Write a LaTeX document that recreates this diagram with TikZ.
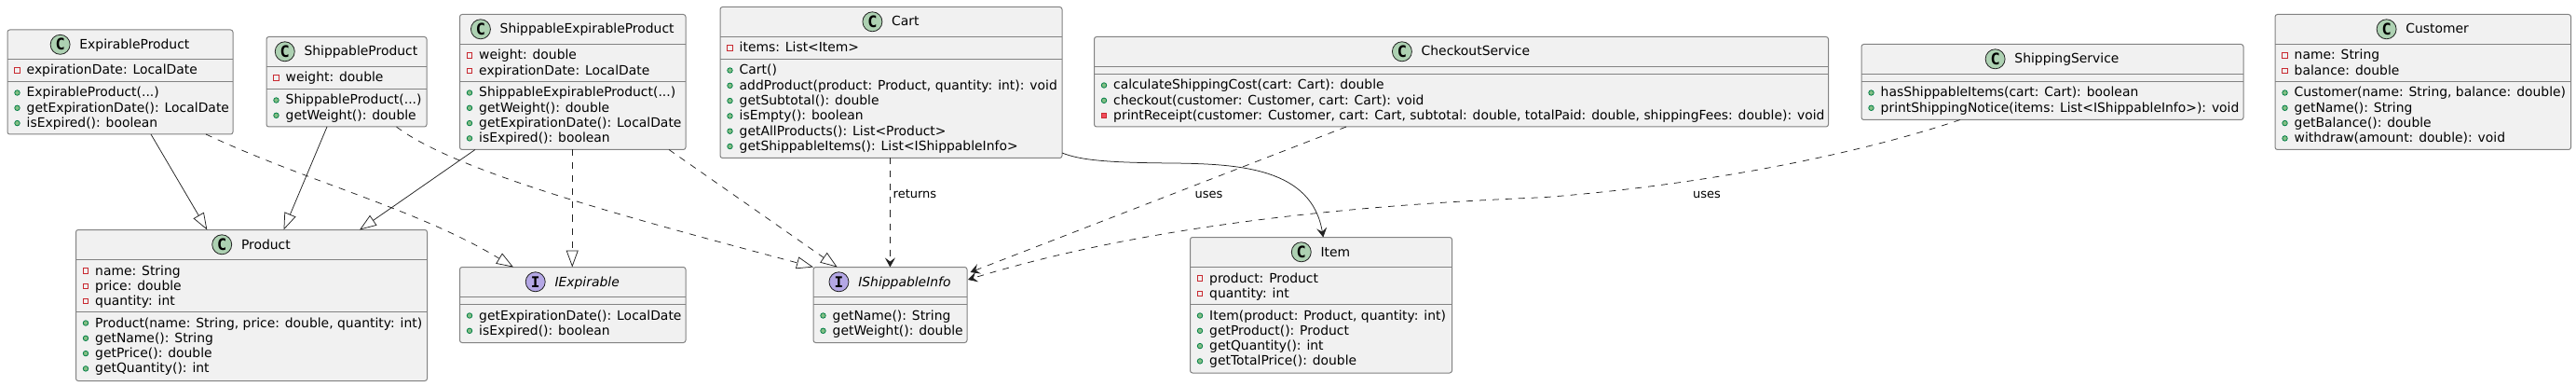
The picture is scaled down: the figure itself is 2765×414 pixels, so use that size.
\documentclass[tikz,border=0pt]{standalone}
\usepackage{fontspec}
\setmainfont{DejaVu Sans}
\newfontfamily\iconfont{DejaVu Sans Mono}
\usetikzlibrary{arrows.meta}
\usetikzlibrary{calc}

\definecolor{boxfill}{HTML}{F1F1F1}
\definecolor{boxline}{HTML}{828282}
\definecolor{wireline}{HTML}{222222}
\definecolor{classdisc}{HTML}{ADD1B2}
\definecolor{ifacedisc}{HTML}{B4A7E5}
\definecolor{pubfill}{HTML}{84BE84}
\definecolor{publine}{HTML}{038048}
\definecolor{privline}{HTML}{C82930}
\definecolor{privfill}{HTML}{F24D5C}

\tikzset{
  classbox/.style={draw=boxline, fill=boxfill, line width=1pt, rounded corners=2.5pt, inner sep=0pt, outer sep=0pt},
  sepline/.style={draw=boxline, line width=1pt},
  classtitle/.style={anchor=base, inner sep=0pt, font=\fontsize{13.9}{16}\selectfont},
  classdot/.style={circle, draw=wireline, line width=0.8pt, fill=classdisc, minimum size=21pt, inner sep=0pt},
  cdot/.style={classdot, label={[font=\iconfont\bfseries\fontsize{17}{17}\selectfont, inner sep=0pt]center:C}},
  idot/.style={classdot, fill=ifacedisc, label={[font=\iconfont\bfseries\fontsize{16}{16}\selectfont, inner sep=0pt]center:I}},
  rowtext/.style={anchor=base west, inner sep=0pt, font=\fontsize{13.9}{16}\selectfont},
  pubmark/.style={circle, draw=publine, fill=pubfill, line width=0.8pt, minimum size=5.5pt, inner sep=0pt},
  privmark/.style={rectangle, draw=privline, line width=0.8pt, minimum size=5.5pt, inner sep=0pt},
  privmeth/.style={privmark, fill=privfill},
  genline/.style={draw=wireline, line width=0.75pt, -{Triangle[open, length=18pt, width=13pt]}},
  realline/.style={genline, dash pattern=on 7pt off 7pt},
  refline/.style={draw=wireline, line width=0.75pt, -{Stealth[length=10pt, width=11pt, inset=4pt]}},
  useline/.style={refline, dash pattern=on 7pt off 7pt},
  wirelabel/.style={anchor=base west, inner sep=0pt, font=\fontsize{13}{15}\selectfont},
}

% name, x1, y1, x2, y2, rule 1, rule 2, disc style, title
\newcommand{\umlclass}[9]{
  \node[classbox, minimum width={#4pt-#2pt}, minimum height={#5pt-#3pt}] (#1) at ({(#2+#4)/2},{(#3+#5)/2}) {};
  \draw[sepline] (#2,#6) -- (#4,#6);
  \draw[sepline] (#2,#7) -- (#4,#7);
  \node[classtitle] (#1-title) at ({(#2+#4)/2+15.4},{#3+20.5}) {#9};
  \node[#8] (#1-dot) at ($(#1-title.base west)+(-20.6,-4.7)$) {};
}

% prefix, box left, rule above, rows
\newcommand{\umlrows}[4]{
  \foreach \mk/\txt [count=\n] in {#4} {
    \node[\mk] (#1-\n-mark) at ({#2+10.5},{#3+12+16.3*(\n-1)}) {};
    \node[rowtext] (#1-\n) at ({#2+20.5},{#3+16.5+16.3*(\n-1)}) {\txt};
  }
}

\begin{document}
\begin{tikzpicture}[x=1pt, y=-1pt]

  \useasboundingbox (0,0) rectangle (2765,414);

  \umlclass{expirableproduct}{8}{32}{250}{144}{63.5}{87.5}{cdot}{ExpirableProduct}
  \umlrows{expirableproduct-a}{8}{63.5}{privmark/{expirationDate: LocalDate}}
  \umlrows{expirableproduct-m}{8}{87.5}{pubmark/{ExpirableProduct(.{}.{}.)}, pubmark/{getExpirationDate(): LocalDate}, pubmark/{isExpired(): boolean}}

  \umlclass{shippableproduct}{286}{39.5}{458}{136}{71.5}{95.5}{cdot}{ShippableProduct}
  \umlrows{shippableproduct-a}{286}{71.5}{privmark/{weight: double}}
  \umlrows{shippableproduct-m}{286}{95.5}{pubmark/{ShippableProduct(.{}.{}.)}, pubmark/{getWeight(): double}}

  \umlclass{shipexpproduct}{493.5}{15.5}{736}{160.5}{47.5}{87.5}{cdot}{ShippableExpirableProduct}
  \umlrows{shipexpproduct-a}{493.5}{47.5}{privmark/{weight: double}, privmark/{expirationDate: LocalDate}}
  \umlrows{shipexpproduct-m}{493.5}{87.5}{pubmark/{ShippableExpirableProduct(.{}.{}.)}, pubmark/{getWeight(): double}, pubmark/{getExpirationDate(): LocalDate}, pubmark/{isExpired(): boolean}}

  \umlclass{product}{81.5}{246.5}{458.5}{408.5}{278.5}{334.5}{cdot}{Product}
  \umlrows{product-a}{81.5}{278.5}{privmark/{name: String}, privmark/{price: double}, privmark/{quantity: int}}
  \umlrows{product-m}{81.5}{334.5}{pubmark/{Product(name: String, price: double, quantity: int)}, pubmark/{getName(): String}, pubmark/{getPrice(): double}, pubmark/{getQuantity(): int}}

  \umlclass{iexpirable}{493.5}{286.5}{736}{367.5}{318.5}{326.5}{idot}{\itshape IExpirable}
  \umlrows{iexpirable-m}{493.5}{326.5}{pubmark/{getExpirationDate(): LocalDate}, pubmark/{isExpired(): boolean}}

  \umlclass{ishippable}{873}{286.5}{1038}{367.5}{318.5}{326.5}{idot}{\itshape IShippableInfo}
  \umlrows{ishippable-m}{873}{326.5}{pubmark/{getName(): String}, pubmark/{getWeight(): double}}

  \umlclass{cart}{773}{7.5}{1140}{169.5}{39.5}{63.5}{cdot}{Cart}
  \umlrows{cart-a}{773}{39.5}{privmark/{items: List<Item>}}
  \umlrows{cart-m}{773}{63.5}{pubmark/{Cart()}, pubmark/{addProduct(product: Product, quantity: int): void}, pubmark/{getSubtotal(): double}, pubmark/{isEmpty(): boolean}, pubmark/{getAllProducts(): List<Product>}, pubmark/{getShippableItems(): List<IShippableInfo>}}

  \umlclass{checkout}{1174.5}{39.5}{1962.5}{136}{71.5}{79.5}{cdot}{CheckoutService}
  \umlrows{checkout-m}{1174.5}{79.5}{pubmark/{calculateShippingCost(cart: Cart): double}, pubmark/{checkout(customer: Customer, cart: Cart): void}, privmeth/{printReceipt(customer: Customer, cart: Cart, subtotal: double, totalPaid: double, shippingFees: double): void}}

  \umlclass{shipping}{1998}{47.5}{2408}{128.5}{79.5}{87.5}{cdot}{ShippingService}
  \umlrows{shipping-m}{1998}{87.5}{pubmark/{hasShippableItems(cart: Cart): boolean}, pubmark/{printShippingNotice(items: List<IShippableInfo>): void}}

  \umlclass{customer}{2442}{15.5}{2759.5}{160.5}{47.5}{87.5}{cdot}{Customer}
  \umlrows{customer-a}{2442}{47.5}{privmark/{name: String}, privmark/{balance: double}}
  \umlrows{customer-m}{2442}{87.5}{pubmark/{Customer(name: String, balance: double)}, pubmark/{getName(): String}, pubmark/{getBalance(): double}, pubmark/{withdraw(amount: double): void}}

  \umlclass{item}{1277.5}{254.5}{1558.5}{400}{286.5}{326.5}{cdot}{Item}
  \umlrows{item-a}{1277.5}{286.5}{privmark/{product: Product}, privmark/{quantity: int}}
  \umlrows{item-m}{1277.5}{326.5}{pubmark/{Item(product: Product, quantity: int)}, pubmark/{getProduct(): Product}, pubmark/{getQuantity(): int}, pubmark/{getTotalPrice(): double}}

  \draw[genline] ($(expirableproduct.south west)+(154,0)$) -- ($(product.north west)+(140.8,0)$);
  \draw[genline] ($(shippableproduct.south west)+(65,0)$) -- ($(product.north west)+(223,0)$);
  \draw[genline] ($(shipexpproduct.south west)+(16.5,0)$) -- ($(product.north west)+(304.5,0)$);

  \draw[realline] ($(expirableproduct.south west)+(213,0)$) .. controls (330,195) and (450,225) .. ($(iexpirable.north west)+(57.5,0)$);
  \draw[realline] ($(shippableproduct.south west)+(139.5,0)$) .. controls (490,185) and (680,235) .. (ishippable.north west);
  \draw[realline] ($(shipexpproduct.south)+(-0.5,0)$) -- ($(iexpirable.north)+(-0.5,0)$);
  \draw[realline] ($(shipexpproduct.south west)+(224.5,0)$) -- ($(ishippable.north west)+(25.7,0)$);

  \draw[useline] ($(cart.south west)+(182.4,0)$) -- ($(ishippable.north west)+(82.4,0)$);
  \node[wirelabel] (returnslabel) at (958.5,212) {returns};

  \draw[refline] ($(cart.south east)+(0,-5.5)$) .. controls (1160,172) and (1190,174.5) .. (1260,175) .. controls (1330,176) and (1408,180) .. ($(item.north west)+(142.8,0)$);

  \draw[useline] ($(checkout.south west)+(270.5,0)$) -- ($(ishippable.north east)+(3.5,5.5)$);
  \node[wirelabel] (useslabela) at (1282.5,212) {uses};

  \draw[useline] ($(shipping.south west)+(106,0)$) .. controls (1980,170) and (1810,200) .. (1656.7,211.7) .. controls (1500,218) and (1250,235) .. ($(ishippable.north east)+(1,13.5)$);
  \node[wirelabel] (useslabelb) at (1817,212) {uses};

\end{tikzpicture}
\end{document}
